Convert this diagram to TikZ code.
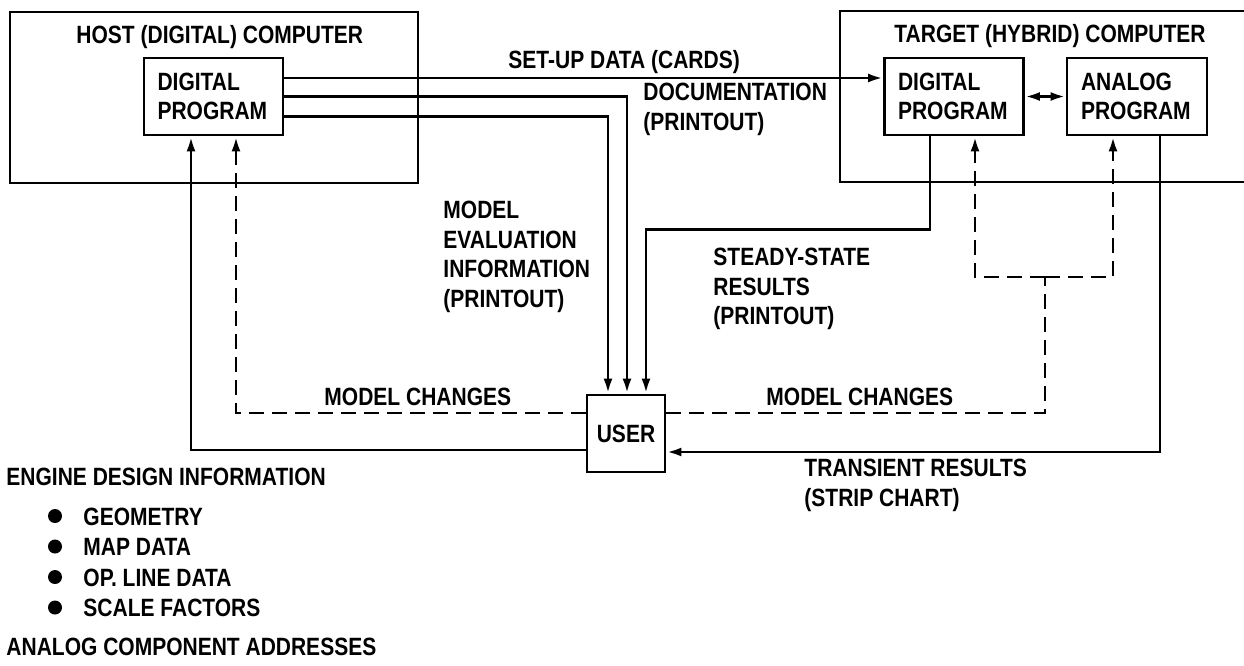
\documentclass[tikz,border=0pt]{standalone}
\usepackage{fontspec}
\setmainfont{Liberation Sans}[FakeStretch=0.84]
\usetikzlibrary{arrows.meta}

\begin{document}
\begin{tikzpicture}[x=1pt,y=-1pt,line width=2.9pt,
  >={Latex[length=15pt,width=9pt]},
  every node/.style={font=\bfseries\fontsize{25}{29.5}\selectfont,inner sep=0pt},
  box/.style={draw,rectangle},
  prog/.style={box,minimum width=139pt,minimum height=77pt,align=left,text width=112pt},
  txt/.style={align=left,anchor=north west},
  chg/.style={dash pattern=on 15pt off 8pt}]
  \useasboundingbox (0,0) rectangle (1244,665);
  \clip (0,0) rectangle (1244,665);

  % computers
  \node[box,minimum width=408pt,minimum height=171pt] (host) at (214,97.5) {};
  \node[box,minimum width=430pt,minimum height=171pt] (target) at (1055,96.5) {};
  \node[anchor=base west] (hosttitle) at (75,43) {HOST (DIGITAL) COMPUTER};
  \node[anchor=base west] (targettitle) at (893,42) {TARGET (HYBRID) COMPUTER};

  \node[prog] (hdp) at (213.5,96.5) {DIGITAL\\PROGRAM};
  \node[prog] (tdp) at (954,96.5) {DIGITAL\\PROGRAM};
  \node[prog,minimum width=140pt] (adp) at (1137,96.5) {ANALOG\\PROGRAM};
  \node[box,minimum width=78pt,minimum height=77pt] (user) at (626,433.5) {USER};

  % data to the user
  \draw[->] ([yshift=18.5pt]hdp.east) -- ([yshift=18.5pt]tdp.west);
  \draw[->] (hdp.east) -| ([xshift=1pt]user.north);
  \draw[->] ([yshift=-20pt]hdp.east) -| ([xshift=-18pt]user.north);
  \draw[->] ([xshift=-24pt]tdp.south) -- ++(0,93) -| ([xshift=20pt]user.north);
  \draw[<->] (tdp.east) -- (adp.west);
  \draw[->] ([xshift=23pt]adp.south) |- ([yshift=-18.5pt]user.east);
  \draw[->] ([yshift=-16.5pt]user.west) -| ([xshift=-22.5pt]hdp.south);

  % model changes
  \coordinate (split) at (1045,277);
  \draw[chg] ([yshift=20.5pt]user.east) -| (split);
  \draw[chg,->] (split) -| ([xshift=21pt]tdp.south);
  \draw[chg,->] (split) -| ([xshift=-24pt]adp.south);
  \draw[chg,->] ([yshift=20.5pt]user.west) -| ([xshift=22.5pt]hdp.south);

  % labels
  \node[anchor=base west] (setup) at (507,68) {SET-UP DATA (CARDS)};
  \node[txt] (docu) at (642,82) {DOCUMENTATION\\(PRINTOUT)};
  \node[txt] (evalinfo) at (442,200) {MODEL\\EVALUATION\\INFORMATION\\(PRINTOUT)};
  \node[txt] (ssres) at (712,247) {STEADY-STATE\\RESULTS\\(PRINTOUT)};
  \node[anchor=base west] (chgleft) at (323,405) {MODEL CHANGES};
  \node[anchor=base west] (chgright) at (765,405) {MODEL CHANGES};
  \node[txt] (transres) at (803,458) {TRANSIENT RESULTS\\(STRIP CHART)};

  % engine design information
  \node[anchor=base west] (engine) at (5,485) {ENGINE DESIGN INFORMATION};
  \foreach \entry [count=\i] in {GEOMETRY,MAP DATA,OP. LINE DATA,SCALE FACTORS}{
    \fill (55,{485.5+30.5*\i}) circle (7);
    \node[anchor=base west] (entry\i) at (82,{494.5+30.5*\i}) {\entry};
  }
  \node[anchor=base west] (addr) at (5,655) {ANALOG COMPONENT ADDRESSES};
\end{tikzpicture}
\end{document}
